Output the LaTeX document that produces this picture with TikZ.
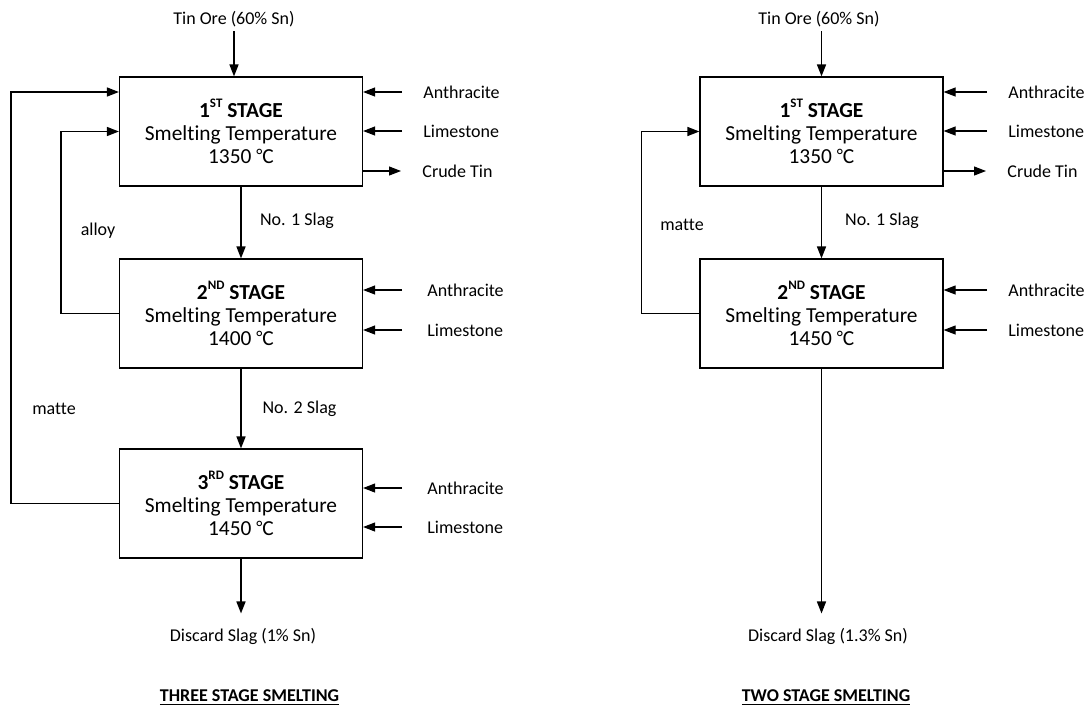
\documentclass[tikz,border=0pt]{standalone}
\usepackage{fontspec}
\setmainfont[Ligatures=NoCommon]{Carlito}
\usetikzlibrary{arrows.meta,calc}
\newcommand{\degc}{{\small\raisebox{0.12em}{°}}C}
\newcommand{\ordsup}[1]{\raisebox{0.45em}{\fontsize{6.5}{7}\selectfont #1}}
\tikzset{
  flow/.style={-{Triangle[length=6pt,width=4.5pt]},line width=0.8pt},
  feed/.style={-{Triangle[length=6pt,width=4.5pt]},line width=0.55pt},
  recycle/.style={-{Triangle[length=6pt,width=4.5pt]},line width=0.7pt},
  stagebox/.style={draw,line width=0.6pt,minimum width=121.5pt,minimum height=54.5pt,
    align=center,inner sep=0pt,font=\fontsize{10.7}{11.6}\selectfont},
  txt/.style={inner sep=2pt,font=\fontsize{9}{10}\selectfont},
  feedtxt/.style={anchor=west,inner xsep=10.5pt,inner ysep=0pt,font=\fontsize{9}{10}\selectfont},
  caption/.style={inner sep=0pt,font=\fontsize{9}{10}\selectfont\bfseries}
}
\begin{document}
\begin{tikzpicture}[x=0.5pt,y=-0.5pt]
  \useasboundingbox (0,0) rectangle (1086,709);

  % three stage smelting
  \node[txt] (ore1) at (234,19) {Tin Ore (60\% Sn)};
  \node[stagebox] (s1) at (241,131.5)
    {{\bfseries 1\ordsup{ST} STAGE}\\Smelting Temperature\\1350 \degc};
  \node[stagebox] (s2) at (241,313.5)
    {{\bfseries 2\ordsup{ND} STAGE}\\Smelting Temperature\\1400 \degc};
  \node[stagebox] (s3) at (241,503.5)
    {{\bfseries 3\ordsup{RD} STAGE}\\Smelting Temperature\\1450 \degc};
  \node[txt] (dis1) at (243,636) {Discard Slag (1\% Sn)};
  \draw[flow] (ore1) -- (ore1 |- s1.north);
  \draw[flow] (s1) -- (s2);
  \draw[flow] (s2) -- (s3);
  \draw[flow,shorten >=5pt] (s3.south) -- (s3.south |- dis1.north);
  \node[txt] (slag1) at (297,221) {No. 1 Slag};
  \node[txt] (slag2) at (299.5,409) {No. 2 Slag};

  \node[feedtxt] (an1) at (402,92) {Anthracite};
  \node[feedtxt] (li1) at (402,131) {Limestone};
  \node[feedtxt] (ct1) at (401,171) {Crude Tin};
  \node[feedtxt] (an2) at (406,290) {Anthracite};
  \node[feedtxt] (li2) at (406,330) {Limestone};
  \node[feedtxt] (an3) at (406,488) {Anthracite};
  \node[feedtxt] (li3) at (406,527) {Limestone};
  \draw[feed] (an1.west) -- (an1.west -| s1.east);
  \draw[feed] (li1.west) -- (li1.west -| s1.east);
  \draw[feed] (ct1.west -| s1.east) -- (ct1.west);
  \draw[feed] ([xshift=-2pt]an2.west) -- (an2.west -| s2.east);
  \draw[feed] ([xshift=-2pt]li2.west) -- (li2.west -| s2.east);
  \draw[feed] ([xshift=-2pt]an3.west) -- (an3.west -| s3.east);
  \draw[feed] ([xshift=-2pt]li3.west) -- (li3.west -| s3.east);

  \draw[recycle] (s2.west) -- ++(-58,0) |- (s1.west);
  \draw[recycle] (s3.west) -- ++(-108,0) |- (an1.west -| s1.west);
  \node[txt] (alloy1) at (98,231) {alloy};
  \node[txt] (matte1) at (54,409) {matte};

  \node[caption] (cap1) at (249.5,698) {\underline{THREE STAGE SMELTING}};

  % two stage smelting
  \node[txt] (ore2) at (819,19) {Tin Ore (60\% Sn)};
  \node[stagebox] (t1) at (821.5,131.5)
    {{\bfseries 1\ordsup{ST} STAGE}\\Smelting Temperature\\1350 \degc};
  \node[stagebox] (t2) at (821.5,313.5)
    {{\bfseries 2\ordsup{ND} STAGE}\\Smelting Temperature\\1450 \degc};
  \node[txt] (dis2) at (828,636) {Discard Slag (1.3\% Sn)};
  \draw[flow] (ore2.south -| t1.north) -- (t1.north);
  \draw[flow] (t1) -- (t2);
  \draw[flow,shorten >=5pt] (t2.south) -- (t2.south |- dis2.north);
  \node[txt] (slag3) at (882,221) {No. 1 Slag};

  \node[feedtxt] (an4) at (987,92) {Anthracite};
  \node[feedtxt] (li4) at (987,131) {Limestone};
  \node[feedtxt] (ct2) at (986,171) {Crude Tin};
  \node[feedtxt] (an5) at (987,290) {Anthracite};
  \node[feedtxt] (li5) at (987,330) {Limestone};
  \draw[feed] (an4.west) -- (an4.west -| t1.east);
  \draw[feed] (li4.west) -- (li4.west -| t1.east);
  \draw[feed] (ct2.west -| t1.east) -- (ct2.west);
  \draw[feed] (an5.west) -- (an5.west -| t2.east);
  \draw[feed] (li5.west) -- (li5.west -| t2.east);

  \draw[recycle] (t2.west) -- ++(-58,0) |- (t1.west);
  \node[txt] (matte2) at (682,225) {matte};

  \node[caption] (cap2) at (826,698) {\underline{TWO STAGE SMELTING}};
\end{tikzpicture}
\end{document}
